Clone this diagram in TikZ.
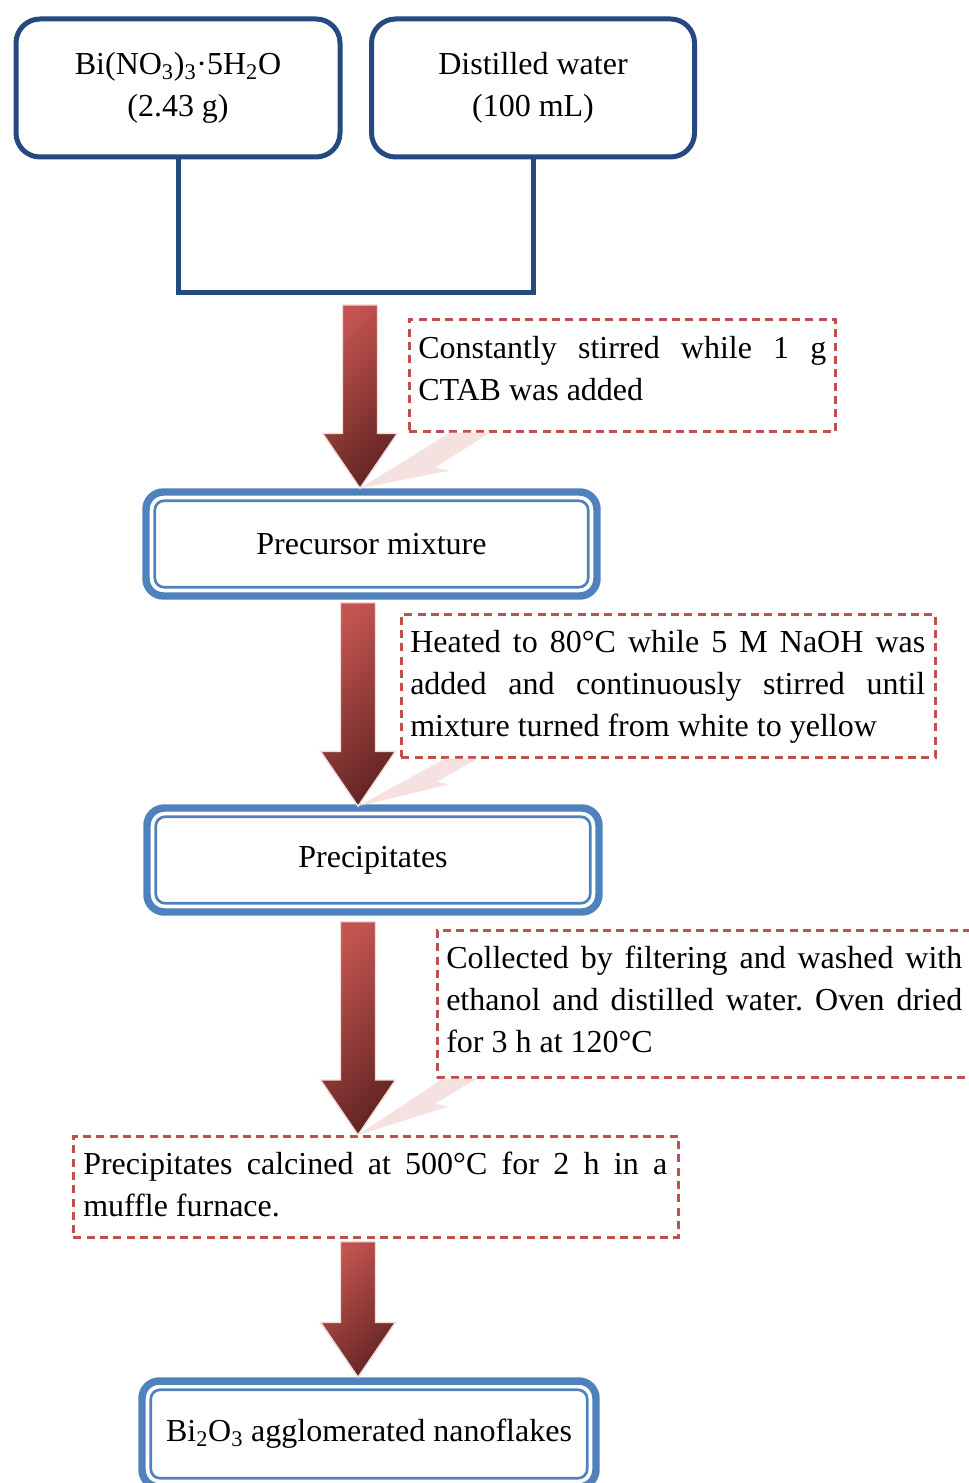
\documentclass[tikz,border=0pt]{standalone}
\usepackage{fontspec}
\setmainfont{Liberation Serif}
\usetikzlibrary{calc}
\setlength{\parindent}{0pt}
\frenchspacing
\definecolor{dkblue}{RGB}{36,74,127}
\definecolor{ltblue}{RGB}{79,129,189}
\definecolor{dashred}{RGB}{192,80,77}
\definecolor{arrlight}{RGB}{196,84,80}
\definecolor{arrdark}{RGB}{99,37,35}
\definecolor{pinkw}{RGB}{242,220,219}
\newcommand\jline[1]{{\spaceskip=\fontdimen2\font plus 1fil\makebox[\hsize][s]{#1}}}
\newcommand\blockarrow[2]{%
  \path[bigarrow] let \p1=#1, \p2=#2 in
   (\x2-13.125pt,\y1) -- (\x2+13.125pt,\y1) -- (\x2+13.125pt,\y2+41.25pt) -- (\x2+28.125pt,\y2+41.25pt)
   -- (\x2,\y2) -- (\x2-28.125pt,\y2+41.25pt) -- (\x2-13.125pt,\y2+41.25pt) -- cycle;}
\tikzset{
 txt/.style={font=\fontsize{24pt}{31.5pt}\selectfont},
 srcbox/.style={draw=dkblue, line width=3.75pt, rounded corners=18pt, align=center, txt, inner sep=0pt},
 mainbox/.style={draw=ltblue, line width=5.6pt, rounded corners=13pt, align=center, txt, inner sep=0pt},
 innerline/.style={draw=ltblue, line width=2pt, rounded corners=7pt},
 callbox/.style={draw=dashred, line width=2pt, dash pattern=on 6pt off 4pt, inner sep=0pt, anchor=north west},
 ctext/.style={txt, align=justify, inner sep=0pt, anchor=north west},
 conn/.style={draw=dkblue, line width=3.75pt},
 bigarrow/.style={draw=pinkw, line width=1.1pt, shading=axis, top color=arrlight, bottom color=arrdark, shading angle=45},
 wedge/.style={fill=pinkw, fill opacity=0.85},
}
\begin{document}
\begin{tikzpicture}[x=0.75pt,y=-0.75pt]
\useasboundingbox (0,0) rectangle (969,1483);
% source boxes
\node[srcbox, minimum width=243pt, minimum height=103.5pt] (b1) at (178,88)
  {Bi(NO\textsubscript{3})\textsubscript{3}·5H\textsubscript{2}O\\(2.43 g)};
\node[srcbox, minimum width=242.25pt, minimum height=103.5pt] (b2) at (533,88)
  {Distilled water\\(100 mL)};
\coordinate (jn) at (360,293);
\coordinate (sp) at (358,0);
\draw[conn] (b1.south) |- (jn) -| (b2.south);
% main boxes
\node[mainbox, minimum width=338.25pt, minimum height=78pt] (b3) at (371.5,544) {Precursor mixture};
\draw[innerline] ($(b3.north west)+(12.5,12.5)$) rectangle ($(b3.south east)+(-12.5,-12.5)$);
\node[mainbox, minimum width=339pt, minimum height=78pt] (b4) at (373,860) {Precipitates};
\draw[innerline] ($(b4.north west)+(12.5,12.5)$) rectangle ($(b4.south east)+(-12.5,-12.5)$);
\node[mainbox, minimum width=340.5pt, minimum height=79.5pt] (b5) at (369,1434)
  {Bi\textsubscript{2}O\textsubscript{3} agglomerated nanoflakes};
\draw[innerline] ($(b5.north west)+(12.5,12.5)$) rectangle ($(b5.south east)+(-12.5,-12.5)$);
% callouts
\node[callbox, minimum width=319.5pt, minimum height=84pt] (c1) at (408,318) {};
\node[ctext, text width=306pt] (t1) at (418,336)
  {\jline{Constantly stirred while 1 g}\\CTAB was added};
\node[callbox, minimum width=400.5pt, minimum height=107.25pt] (c2) at (400,613) {};
\node[ctext, text width=386.25pt] (t2) at (410,630)
  {\jline{Heated to 80°C while 5 M NaOH was}\\\jline{added and continuously stirred until}\\mixture turned from white to yellow};
\node[callbox, minimum width=500pt, minimum height=110.25pt] (c3) at (436,929) {};
\node[ctext, text width=387pt] (t3) at (446,946)
  {\jline{Collected by filtering and washed with}\\\jline{ethanol and distilled water. Oven dried}\\for 3 h at 120°C};
\node[callbox, minimum width=453.75pt, minimum height=75.75pt] (c4) at (72,1135) {};
\node[ctext, text width=438pt] (t4) at (83,1152)
  {\jline{Precipitates calcined at 500°C for 2 h in a}\\muffle furnace.};
% pointers
\fill[wedge] ($(c1.south west)+(42,0)$) -- ++(40,0) -- ++(-55,35) -- ++(15,3) -- (b3.north -| jn) -- cycle;
\fill[wedge] ($(c2.south west)+(45,0)$) -- ++(32,0) -- ++(-40,23) -- ++(11,3) -- ($(b4.north -| sp)+(0,2)$) -- cycle;
\fill[wedge] ($(c3.south west)+(7,0)$) -- ++(34,0) -- ++(-42,25) -- ++(13,3) -- (c4.north -| sp) -- cycle;
% block arrows
\blockarrow{($(jn)+(0,12)$)}{(b3.north -| jn)}
\blockarrow{($(b3.south -| sp)+(0,3)$)}{($(b4.north -| sp)+(0,2)$)}
\blockarrow{($(b4.south -| sp)+(0,6)$)}{(c4.north -| sp)}
\blockarrow{($(c4.south -| sp)+(0,3)$)}{(b5.north -| sp)}
\end{tikzpicture}
\end{document}
